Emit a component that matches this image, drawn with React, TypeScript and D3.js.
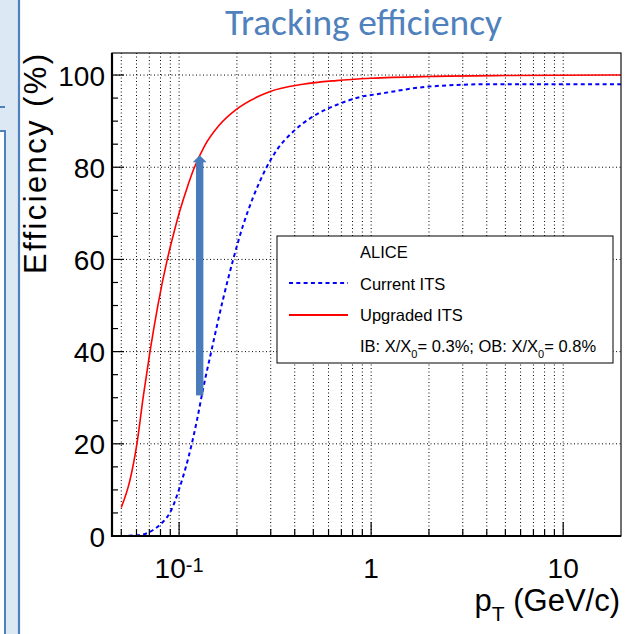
import React from "react";
import * as d3 from "d3";

const W = 631;
const H = 634;

// Upgraded ITS (red, solid)
const PT_UPGRADED = [0.05, 0.0554, 0.0603, 0.0651, 0.0704, 0.0775, 0.0868, 0.0933, 0.1008, 0.1096, 0.1192, 0.136, 0.1608, 0.1995, 0.2628, 0.296, 0.442, 0.659, 1, 2, 5, 20];
const EFF_UPGRADED = [6.2, 12, 20, 30.3, 39.8, 50, 60, 65.3, 70.5, 75.3, 79.6, 84.7, 89, 92.6, 95.5, 96.4, 98.0, 98.8, 99.3, 99.7, 99.9, 100];

// Current ITS (blue, dashed)
const PT_CURRENT = [0.05, 0.0625, 0.0733, 0.0826, 0.0895, 0.101, 0.116, 0.124, 0.133, 0.147, 0.169, 0.191, 0.215, 0.243, 0.284, 0.321, 0.392, 0.498, 0.659, 0.871, 1.13, 2, 4, 20];
const EFF_CURRENT = [0, 0.2, 1.3, 3.1, 5, 10.7, 19.7, 25.2, 31.7, 40, 51.2, 59.9, 67.3, 73.5, 79.8, 83.6, 87.7, 91.0, 93.5, 95.2, 96.0, 97.5, 98.0, 98.0];

const X_MAJOR = [0.1, 1, 10];
const X_MAJOR_LABELS = [["10", "-1"], ["1", ""], ["10", ""]];
const X_MINOR = [0.05, 0.06, 0.07, 0.08, 0.09, 0.2, 0.3, 0.4, 0.5, 0.6, 0.7, 0.8, 0.9, 2, 3, 4, 5, 6, 7, 8, 9];
const Y_MAJOR = [0, 20, 40, 60, 80, 100];
const Y_MINOR = [5, 10, 15, 25, 30, 35, 45, 50, 55, 65, 70, 75, 85, 90, 95];

const LEGEND_HEADER = "ALICE";
const LEGEND_CURRENT = "Current ITS";
const LEGEND_UPGRADED = "Upgraded ITS";

// arrow annotation (data coords)
const ARROW_PT = 0.128;
const ARROW_FROM = 30.5;
const ARROW_TO = 82.6;

const FONT = "'Liberation Sans', Arial, Helvetica, sans-serif";

export default function App() {
  const x = d3.scaleLog().domain([0.045, 20]).range([112.5, 621]);
  const y = d3.scaleLinear().domain([0, 105]).range([536, 52]);
  const left = 112;
  const right = 621;
  const top = 53;
  const bottom = 536;

  const line = d3
    .line<[number, number]>()
    .x((d) => x(d[0]))
    .y((d) => y(d[1]))
    .curve(d3.curveMonotoneX);

  const upgraded = PT_UPGRADED.map((p, i) => [p, EFF_UPGRADED[i]] as [number, number]);
  const current = PT_CURRENT.map((p, i) => [p, EFF_CURRENT[i]] as [number, number]);

  const ax = x(ARROW_PT);
  const ay0 = y(ARROW_FROM);
  const ay1 = y(ARROW_TO);

  const lx = 277, ly = 236, lw = 336, lh = 127;

  return (
    <svg width={W} height={H} style={{ position: "absolute", left: 0, top: 0, background: "#fff" }}>
      {/* slide side decoration */}
      <path d="M0,-2 L19,-2 L19,636 L5,636 L5,131 L0,131 Z" fill="#dde8f5" />
      <line x1={19} y1={-2} x2={19} y2={636} stroke="#4f81bd" strokeWidth={2.2} />
      <path d="M0,107 L5,107" stroke="#4f81bd" strokeWidth={2} fill="none" />
      <path d="M0,131 L5,131 L5,636" stroke="#4f81bd" strokeWidth={2} fill="none" />

      {/* title */}
      <text
        x={225}
        y={35}
        fontFamily="Carlito, Calibri, Lato, sans-serif"
        fontSize={36}
        fill="#4f81bd"
        textLength={277}
        lengthAdjust="spacingAndGlyphs"
      >
        Tracking efficiency
      </text>

      {/* grid */}
      <g stroke="#000" strokeWidth={1} strokeDasharray="1,2.5">
        {[...X_MAJOR, ...X_MINOR].map((v, i) => (
          <line key={"gx" + i} x1={x(v)} x2={x(v)} y1={top} y2={bottom} />
        ))}
        {Y_MAJOR.filter((v) => v > 0).map((v, i) => (
          <line key={"gy" + i} x1={left} x2={right} y1={y(v)} y2={y(v)} />
        ))}
      </g>

      {/* curves */}
      <defs>
        <clipPath id="plotclip">
          <rect x={left} y={top} width={right - left} height={bottom - top} />
        </clipPath>
      </defs>
      <g clipPath="url(#plotclip)">
        <path d={line(current) || ""} fill="none" stroke="#0000ff" strokeWidth={2} strokeDasharray="4,3.3" />
        <path d={line(upgraded) || ""} fill="none" stroke="#ff0000" strokeWidth={1.6} />
      </g>

      {/* arrow */}
      <g fill="#4a7bba">
        <rect x={ax - 3.7} y={ay1 + 6} width={7.4} height={ay0 - ay1 - 6} />
        <path d={`M${ax - 7},${ay1 + 7} L${ax},${ay1} L${ax + 7},${ay1 + 7} Z`} />
      </g>

      {/* legend */}
      <rect x={lx} y={ly} width={lw} height={lh} fill="#fff" stroke="#000" strokeWidth={1} />
      <g fontFamily={FONT} fontSize={16.5} fill="#000">
        <text x={360} y={258}>{LEGEND_HEADER}</text>
        <line x1={289} x2={348} y1={283} y2={283} stroke="#0000ff" strokeWidth={2} strokeDasharray="4,3.3" />
        <text x={360} y={289.5}>{LEGEND_CURRENT}</text>
        <line x1={289} x2={348} y1={315} y2={315} stroke="#ff0000" strokeWidth={1.8} />
        <text x={360} y={321}>{LEGEND_UPGRADED}</text>
        <text x={360} y={352}>
          <tspan>IB: X/X</tspan>
          <tspan fontSize={11} dy={6}>0</tspan>
          <tspan dy={-6}>= 0.3%; OB: X/X</tspan>
          <tspan fontSize={11} dy={6}>0</tspan>
          <tspan dy={-6}>= 0.8%</tspan>
        </text>
      </g>

      {/* frame */}
      <rect x={left} y={top} width={right - left} height={bottom - top} fill="none" stroke="#111" strokeWidth={1.2} />
      <line x1={left} x2={left} y1={top} y2={bottom + 1} stroke="#000" strokeWidth={2.2} />
      <line x1={left - 1} x2={right} y1={bottom} y2={bottom} stroke="#000" strokeWidth={2.2} />

      {/* ticks */}
      <g stroke="#000" strokeWidth={1.2}>
        {X_MAJOR.map((v, i) => (
          <line key={"xt" + i} x1={x(v)} x2={x(v)} y1={bottom} y2={bottom - 14} />
        ))}
        {X_MINOR.map((v, i) => (
          <line key={"xm" + i} x1={x(v)} x2={x(v)} y1={bottom} y2={bottom - 7} />
        ))}
        {Y_MAJOR.map((v, i) => (
          <line key={"yt" + i} x1={left} x2={left + 12} y1={y(v)} y2={y(v)} />
        ))}
        {Y_MINOR.map((v, i) => (
          <line key={"ym" + i} x1={left} x2={left + 6} y1={y(v)} y2={y(v)} />
        ))}
      </g>

      {/* tick labels */}
      <g fontFamily={FONT} fontSize={28} fill="#000">
        {Y_MAJOR.map((v, i) => (
          <text key={"yl" + i} x={105} y={y(v) + 10.5} textAnchor="end">
            {v}
          </text>
        ))}
        {X_MAJOR.map((v, i) => (
          <text key={"xl" + i} x={x(v)} y={578} textAnchor="middle">
            <tspan>{X_MAJOR_LABELS[i][0]}</tspan>
            {X_MAJOR_LABELS[i][1] ? (
              <tspan fontSize={20} dy={-6}>{X_MAJOR_LABELS[i][1]}</tspan>
            ) : null}
          </text>
        ))}
      </g>

      {/* axis titles */}
      <text x={620} y={611} fontFamily={FONT} fontSize={31} textAnchor="end" fill="#000">
        <tspan>p</tspan>
        <tspan fontSize={21} dy={10}>T</tspan>
        <tspan dy={-10}> (GeV/c)</tspan>
      </text>
      <text
        transform="translate(46,274) rotate(-90)"
        fontFamily={FONT}
        fontSize={31}
        fill="#000"
        textLength={220}
      >
        Efficiency (%)
      </text>
    </svg>
  );
}
